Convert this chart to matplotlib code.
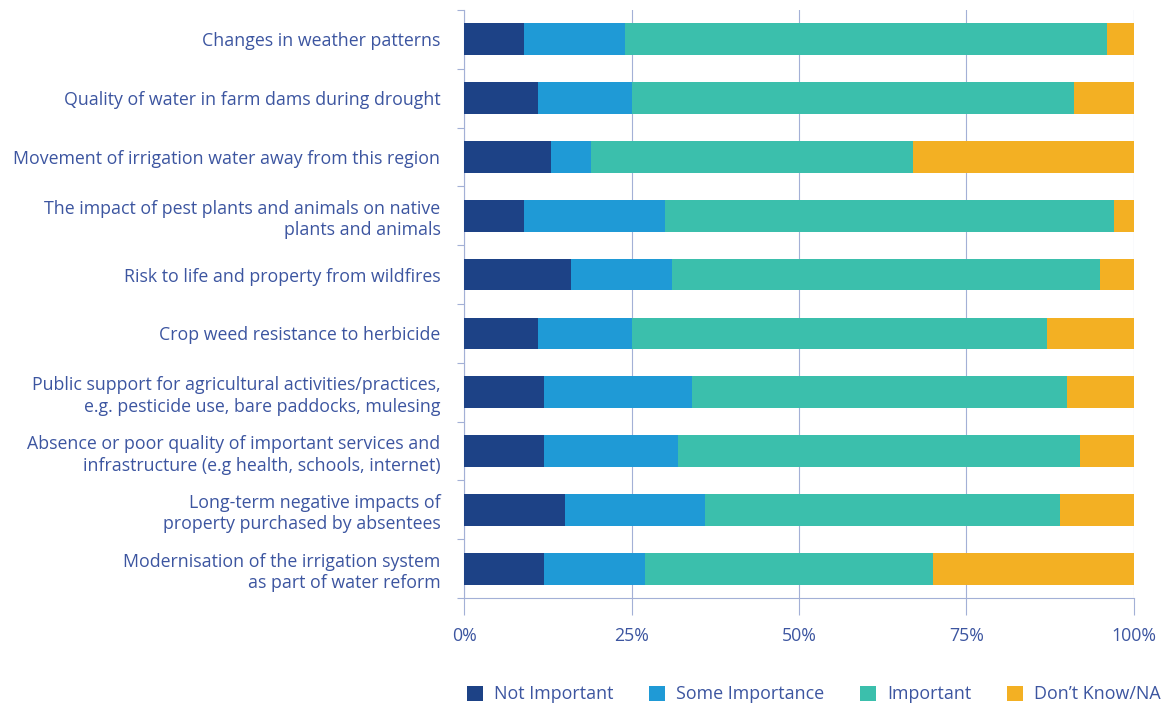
import matplotlib
matplotlib.use("Agg")
import matplotlib.pyplot as plt
import numpy as np

categories = [
    "Changes in weather patterns",
    "Quality of water in farm dams during drought",
    "Movement of irrigation water away from this region",
    "The impact of pest plants and animals on native\nplants and animals",
    "Risk to life and property from wildfires",
    "Crop weed resistance to herbicide",
    "Public support for agricultural activities/practices,\ne.g. pesticide use, bare paddocks, mulesing",
    "Absence or poor quality of important services and\ninfrastructure (e.g health, schools, internet)",
    "Long-term negative impacts of\nproperty purchased by absentees",
    "Modernisation of the irrigation system\nas part of water reform",
]

series_names = ["Not Important", "Some Importance", "Important", "Don\u2019t Know/NA"]
not_important = [9, 11, 13, 9, 16, 11, 12, 12, 15, 12]
some_importance = [15, 14, 6, 21, 15, 14, 22, 20, 21, 15]
important = [72, 66, 48, 67, 64, 62, 56, 60, 53, 43]
dont_know = [4, 9, 33, 3, 5, 13, 10, 8, 11, 30]

x_ticks = [0, 25, 50, 75, 100]
x_tick_labels = ["0%", "25%", "50%", "75%", "100%"]

colors = ["#1d4286", "#1f9ad6", "#3bbfac", "#f3b023"]
text_color = "#3c55a0"
line_color = "#a3b0d6"

plt.rcParams["font.family"] = ["Open Sans", "DejaVu Sans"]

fig = plt.figure(figsize=(11.69, 7.07), dpi=100)
ax = fig.add_axes([0.397, 0.154, 0.573, 0.832])

y = np.arange(len(categories))
left = np.zeros(len(categories))
handles = []
for name, vals, col in zip(series_names,
                           [not_important, some_importance, important, dont_know],
                           colors):
    vals = np.array(vals, dtype=float)
    h = ax.barh(y, vals, left=left, height=0.54, color=col, label=name, zorder=3)
    handles.append(h)
    left += vals

ax.set_ylim(len(categories) - 0.5, -0.5)
ax.set_xlim(0, 100)

ax.set_yticks(y)
ax.set_yticklabels(categories, color=text_color, fontsize=12.8, linespacing=1.25)
ax.set_yticks(np.arange(len(categories) + 1) - 0.5, minor=True)
ax.tick_params(axis="y", which="major", length=0, pad=17)
ax.tick_params(axis="y", which="minor", length=5, width=0.8, color=line_color)

ax.set_xticks(x_ticks)
ax.set_xticklabels(x_tick_labels, color=text_color, fontsize=12.8)
ax.tick_params(axis="x", length=12, width=0.8, color=line_color, pad=9)

ax.grid(axis="x", color=line_color, linewidth=0.8, zorder=1)
for side in ["top", "right"]:
    ax.spines[side].set_visible(False)
for side in ["left", "bottom"]:
    ax.spines[side].set_color(line_color)
    ax.spines[side].set_linewidth(0.8)

leg = fig.legend(handles=handles, labels=series_names, loc="center",
                 bbox_to_anchor=(0.696, 0.018), ncol=4, frameon=False,
                 fontsize=12.9, handlelength=0.9, handleheight=0.9,
                 handletextpad=0.6, columnspacing=2.0, labelcolor=text_color)

fig.savefig("out.png", dpi=100)
